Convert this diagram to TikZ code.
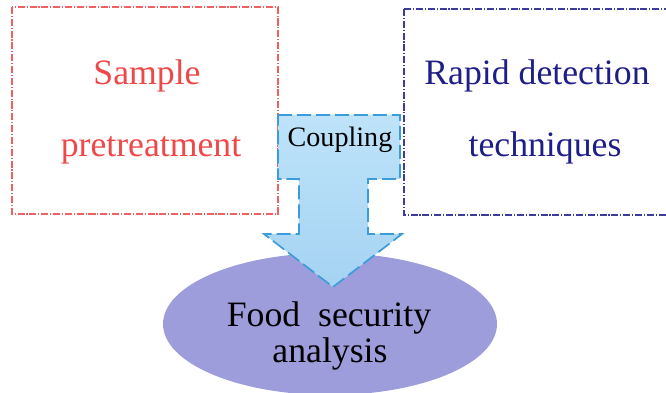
\documentclass[tikz,border=0pt]{standalone}
\usepackage{fontspec}
\setmainfont{Liberation Serif}
\usepackage{tikz}
\usetikzlibrary{shapes.geometric}
\definecolor{pretred}{HTML}{F04848}
\definecolor{pretline}{HTML}{F06060}
\definecolor{rapidblue}{HTML}{1E1E88}
\definecolor{rapidline}{HTML}{3C3CA0}
\definecolor{couptop}{HTML}{BEE3FA}
\definecolor{coupbot}{HTML}{A4D3F2}
\definecolor{coupline}{HTML}{3C9CDA}
\definecolor{foodfill}{HTML}{9D9DDC}
\newcommand{\bigtext}{\fontsize{25.4}{30}\selectfont}
\newcommand{\smalltext}{\fontsize{20}{24}\selectfont}

\begin{document}
\begin{tikzpicture}[x=0.025cm, y=-0.025cm,
  dashdot/.style={line width=0.9pt, dash pattern=on 5pt off 1.3pt on 0.8pt off 1.3pt},
  lbl/.style={anchor=base, inner sep=0pt}]
  \useasboundingbox (0,0) rectangle (666,393);
  \clip (0,0) rectangle (666,393);

  % boxes
  \draw[dashdot, pretline] (12,7) rectangle (278,214);
  \draw[dashdot, rapidline] (404,9) rectangle (680,215);

  % box labels
  \node[lbl, pretred] (sample) at (147,85) {\bigtext Sample};
  \node[lbl, pretred] (pretreat) at (151,157) {\bigtext pretreatment};
  \node[lbl, rapidblue] (rapid) at (537,85) {\bigtext Rapid detection};
  \node[lbl, rapidblue] (techn) at (545,157) {\bigtext techniques};

  % food security analysis
  \fill[foodfill] (330,324) ellipse (167 and 71);
  \node[lbl] (food) at (329,327) {\bigtext Food\ \ security};
  \node[lbl] (analysis) at (330,363) {\bigtext analysis};

  % coupling arrow
  \path[top color=couptop, bottom color=coupbot, draw=coupline, line width=1.2pt,
        dash pattern=on 10pt off 3.5pt]
    (278,115) -- (400,115) -- (400,179) -- (368,179) -- (368,234) -- (402,234)
    -- (333,287) -- (264,234) -- (299,234) -- (299,179) -- (278,179) -- cycle;
  \node[lbl] (coupling) at (340,147) {\smalltext Coupling};
\end{tikzpicture}
\end{document}
